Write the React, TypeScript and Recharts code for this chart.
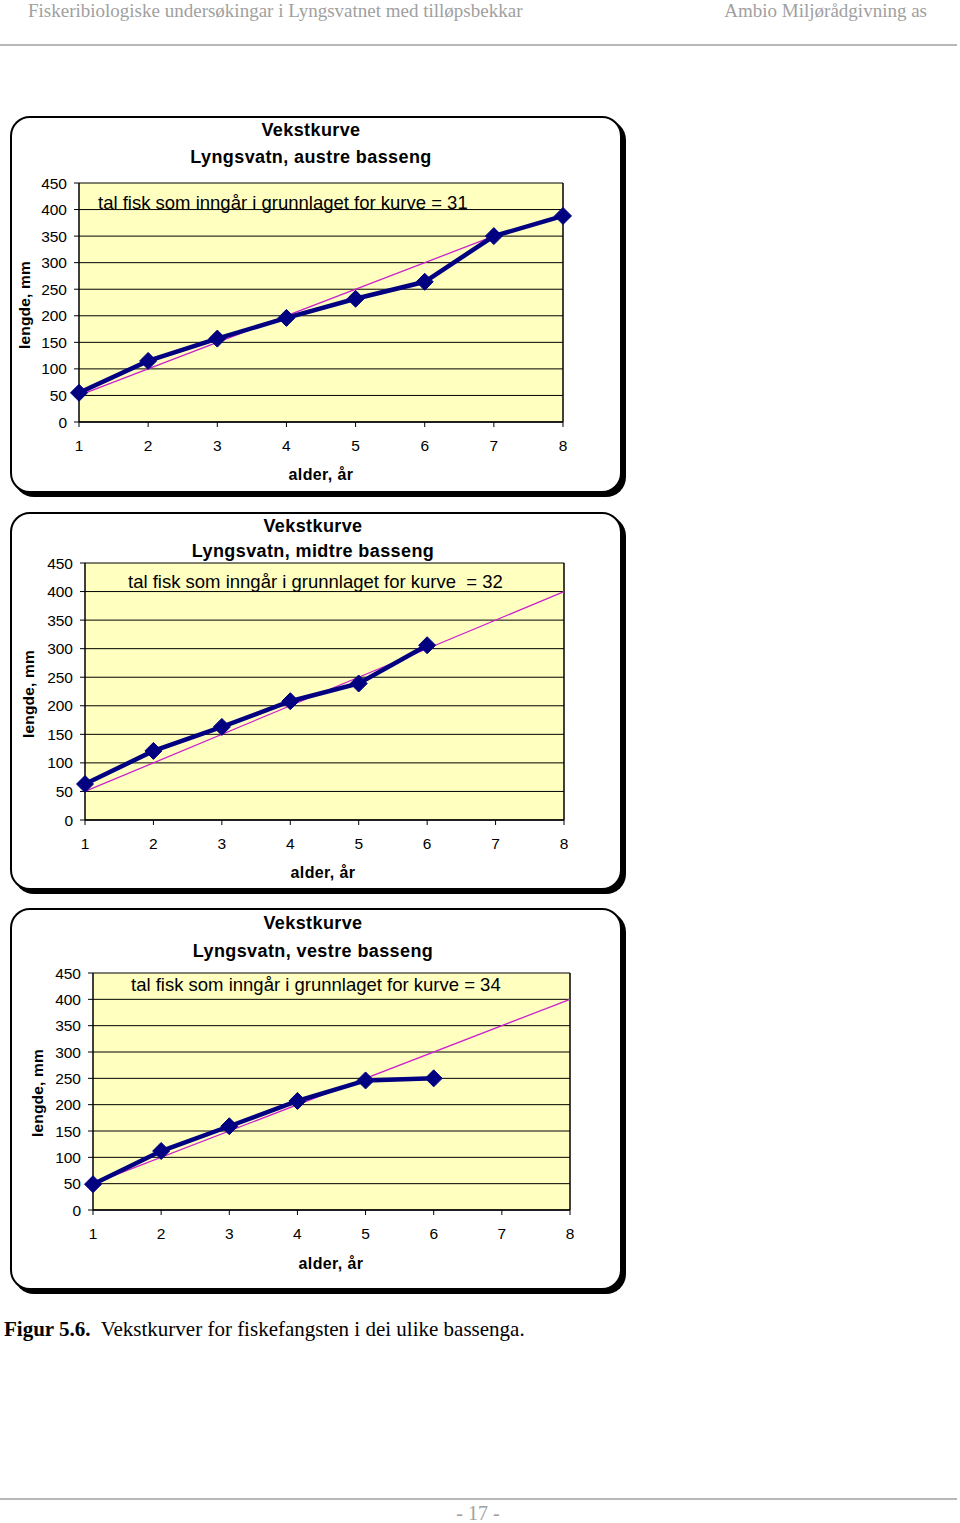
import React from 'react';
import { LineChart, Line, XAxis, YAxis, CartesianGrid, ReferenceLine } from 'recharts';

// ---- data ----
const ages = [1, 2, 3, 4, 5, 6, 7, 8];
const yTicks = [0, 50, 100, 150, 200, 250, 300, 350, 400, 450];

const austreLengths = [55, 115, 157, 196, 232, 264, 350, 388];
const midtreLengths = [63, 121, 163, 208, 239, 306];
const vestreLengths = [49, 112, 159, 207, 246, 250];

const austreTrendAges = [1, 7];
const austreTrend = [50, 350];
const midtreTrendAges = [1, 8];
const midtreTrend = [50, 400];
const vestreTrendAges = [1, 8];
const vestreTrend = [50, 400];

const chartTitle = 'Vekstkurve';
const subTitles = ['Lyngsvatn, austre basseng', 'Lyngsvatn, midtre basseng', 'Lyngsvatn, vestre basseng'];
const notes = [
  'tal fisk som inngår i grunnlaget for kurve = 31',
  'tal fisk som inngår i grunnlaget for kurve  = 32',
  'tal fisk som inngår i grunnlaget for kurve = 34',
];
const yLabel = 'lengde, mm';
const xLabel = 'alder, år';

const headerLeft = 'Fiskeribiologiske undersøkingar i Lyngsvatnet med tilløpsbekkar';
const headerRight = 'Ambio Miljørådgivning as';
const captionBold = 'Figur 5.6.';
const captionText = 'Vekstkurver for fiskefangsten i dei ulike bassenga.';
const pageNo = '- 17 -';

// ---- build tables ----
const toRows = (xs: number[], ys: number[]) => ys.map((v, i) => ({ age: xs[i], len: v }));
const series = [
  { main: toRows(ages, austreLengths), trend: toRows(austreTrendAges, austreTrend) },
  { main: toRows(ages, midtreLengths), trend: toRows(midtreTrendAges, midtreTrend) },
  { main: toRows(ages, vestreLengths), trend: toRows(vestreTrendAges, vestreTrend) },
];

// ---- layout ----
const SANS = '"Liberation Sans", Arial, sans-serif';
const SERIF = '"Liberation Serif", "Times New Roman", serif';

const layouts = [
  {
    boxTop: 116, boxH: 377, chartH: 380,
    margin: { top: 67, left: 29, right: 77, bottom: 44 },
    titleY: 130, subY: 157, titleX: 311,
    noteX: 98, noteY: 203,
    yLabX: 25, yLabY: 305, xLabX: 321, xLabY: 475,
  },
  {
    boxTop: 512, boxH: 378, chartH: 380,
    margin: { top: 51, left: 35, right: 76, bottom: 42 },
    titleY: 526, subY: 551, titleX: 313,
    noteX: 128, noteY: 582,
    yLabX: 29, yLabY: 694, xLabX: 323, xLabY: 873,
  },
  {
    boxTop: 908, boxH: 382, chartH: 380,
    margin: { top: 65, left: 43, right: 70, bottom: 48 },
    titleY: 923, subY: 951, titleX: 313,
    noteX: 131, noteY: 985,
    yLabX: 38, yLabY: 1093, xLabX: 331, xLabY: 1264,
  },
];

const Diamond = (props: any) => {
  const { cx, cy, index } = props;
  if (cx == null || cy == null) return <g key={`d-${index}`} />;
  const r = 8.5;
  return (
    <polygon
      key={`d-${index}`}
      points={`${cx},${cy - r} ${cx + r},${cy} ${cx},${cy + r} ${cx - r},${cy}`}
      fill="#000080"
      stroke="#000080"
    />
  );
};

const tickStyle = { fill: '#000', fontSize: 15.5, fontFamily: SANS };

function Panel({ idx }: { idx: number }) {
  const L = layouts[idx];
  const S = series[idx];
  return (
    <>
      <div
        style={{
          position: 'absolute', left: 10, top: L.boxTop, width: 612, height: L.boxH,
          border: '2px solid #000', borderRadius: 20, boxSizing: 'border-box',
          boxShadow: '4px 4px 0 0 #000', background: '#fff',
        }}
      />
      <div style={{ position: 'absolute', left: 0, top: L.boxTop }}>
        <LineChart width={640} height={L.chartH} data={S.main} margin={L.margin}>
          <CartesianGrid vertical={false} stroke="#000" strokeWidth={1} fill="#FFFFC0" fillOpacity={1} />
          <XAxis
            dataKey="age" type="number" domain={[1, 8]} ticks={ages}
            stroke="#000" tickSize={5} tickMargin={13} tick={tickStyle} height={30}
            axisLine={{ stroke: '#000', strokeWidth: 1.5 }} tickLine={{ stroke: '#000' }}
          />
          <YAxis
            type="number" domain={[0, 450]} ticks={yTicks} width={50}
            tickSize={5} tickMargin={7} tick={tickStyle}
            axisLine={{ stroke: '#000', strokeWidth: 1.5 }} tickLine={{ stroke: '#000' }}
          />
          <ReferenceLine x={8} stroke="#000" strokeWidth={1.5} />
          <Line
            data={S.trend} dataKey="len" stroke="#CC22CC" strokeWidth={1.3}
            dot={false} isAnimationActive={false} activeDot={false}
          />
          <Line
            dataKey="len" stroke="#000080" strokeWidth={4.5} dot={<Diamond />}
            isAnimationActive={false} activeDot={false}
          />
        </LineChart>
      </div>
      <div style={{ position: 'absolute', left: L.titleX, top: L.titleY, transform: 'translate(-50%,-50%)', font: `bold 18px ${SANS}`, whiteSpace: 'nowrap', letterSpacing: 0.4 }}>
        {chartTitle}
      </div>
      <div style={{ position: 'absolute', left: L.titleX, top: L.subY, transform: 'translate(-50%,-50%)', font: `bold 18px ${SANS}`, whiteSpace: 'nowrap', letterSpacing: 0.4 }}>
        {subTitles[idx]}
      </div>
      <div style={{ position: 'absolute', left: L.noteX, top: L.noteY, transform: 'translate(0,-50%)', font: `18.5px ${SANS}`, whiteSpace: 'pre' }}>
        {notes[idx]}
      </div>
      <div style={{ position: 'absolute', left: L.yLabX, top: L.yLabY, transform: 'translate(-50%,-50%) rotate(-90deg)', font: `bold 15.5px ${SANS}`, whiteSpace: 'nowrap', letterSpacing: 0.2 }}>
        {yLabel}
      </div>
      <div style={{ position: 'absolute', left: L.xLabX, top: L.xLabY, transform: 'translate(-50%,-50%)', font: `bold 16px ${SANS}`, whiteSpace: 'nowrap', letterSpacing: 0.4 }}>
        {xLabel}
      </div>
    </>
  );
}

export default function App() {
  return (
    <div style={{ position: 'absolute', left: 0, top: 0, width: 960, height: 1523, background: '#fff', overflow: 'hidden' }}>
      <div style={{ position: 'absolute', left: 28, top: 11, transform: 'translate(0,-50%)', font: `19px ${SERIF}`, color: '#a0a0a0', whiteSpace: 'nowrap' }}>
        {headerLeft}
      </div>
      <div style={{ position: 'absolute', right: 33, top: 11, transform: 'translate(0,-50%)', font: `19px ${SERIF}`, color: '#a0a0a0', whiteSpace: 'nowrap' }}>
        {headerRight}
      </div>
      <div style={{ position: 'absolute', left: 0, top: 44, width: 957, height: 2, background: '#b8b8b8' }} />

      <Panel idx={0} />
      <Panel idx={1} />
      <Panel idx={2} />

      <div style={{ position: 'absolute', left: 4, top: 1329, transform: 'translate(0,-50%)', font: `21px ${SERIF}`, color: '#000', whiteSpace: 'pre' }}>
        <b>{captionBold}</b>{'  '}{captionText}
      </div>

      <div style={{ position: 'absolute', left: 0, top: 1498, width: 957, height: 2, background: '#b8b8b8' }} />
      <div style={{ position: 'absolute', left: 478, top: 1513, transform: 'translate(-50%,-50%)', font: `20px ${SERIF}`, color: '#a0a0a0', whiteSpace: 'pre' }}>
        {pageNo}
      </div>
    </div>
  );
}
